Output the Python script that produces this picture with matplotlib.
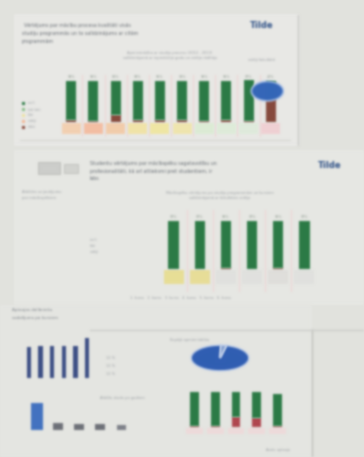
import matplotlib.pyplot as plt
import numpy as np
from matplotlib.patches import Ellipse, Rectangle

W, H = 364, 457

# panel 1 : ten stacked bars (green / brown) with a pale category band below
green1 = [93, 95, 80, 93, 94, 93, 95, 94, 96, 40]
brown1 = [3, 2, 15, 3, 3, 4, 2, 3, 2, 55]
band1_colors = ['#f3d0b2', '#f4bea3', '#f2ccab', '#f1e3a8', '#f0e6a4', '#f0e5ae',
                '#dcecd5', '#deecd9', '#dfebdc', '#f0d0d3']
top1_labels = ['94%', '96%', '81%', '94%', '95%', '93%', '96%', '95%', '97%', '40%']

# panel 2 : six bars
green2 = [97, 97, 96, 97, 95, 97]
brown2 = [1, 1, 2, 1, 3, 1]
band2_colors = ['#e8de96', '#e8dd98', '#e0e1de', '#e0e1de', '#dfdedb', '#e0e1de']

# panel 3 : small blue columns, one tall blue bar and four short grey ones
blue3 = [78, 80, 79, 80, 79, 100]
low3 = [100, 24, 22, 20, 18]
low3_colors = ['#4272c0', '#6d7078', '#6d7078', '#6d7078', '#7d8088']

# panel 3 : pie and five stacked bars
pie3 = [97, 3]
green4 = [95, 95, 70, 72, 88]
red4 = [3, 3, 28, 26, 5]

GREEN = '#2b7a45'
BROWN = '#86493c'
TXT = '#9ea2a6'


def blur(im, dpi):
    # soft gaussian blur, the reference is a fuzzy photo
    r = 4
    k = np.exp(-0.5 * (np.arange(-r, r + 1) / 1.1) ** 2)
    k /= k.sum()
    a = np.pad(im, ((r, r), (r, r), (0, 0)))
    a[..., :3] *= a[..., 3:]
    b = sum(kv * np.roll(a, i - r, axis=0) for i, kv in enumerate(k))
    b = sum(kv * np.roll(b, i - r, axis=1) for i, kv in enumerate(k))
    alpha = b[..., 3:]
    b[..., :3] = np.where(alpha > 1e-6, b[..., :3] / np.maximum(alpha, 1e-6), 0)
    return np.clip(b, 0, 1), -r, -r


fig = plt.figure(figsize=(W / 100, H / 100), dpi=100)
fig.patch.set_facecolor('#e1e2dd')


def px(x0, y0, x1, y1):
    # pixel box (top-left origin) -> figure fraction
    return [x0 / W, 1 - y1 / H, (x1 - x0) / W, (y1 - y0) / H]


bg = fig.add_axes([0, 0, 1, 1])
bg.set_xlim(0, W)
bg.set_ylim(H, 0)
bg.axis('off')

# slide backgrounds and frame lines
bg.add_patch(Rectangle((14, 14), 286, 132, fc='#e9e9e6', ec='none'))
bg.add_patch(Rectangle((14, 150), 350, 155, fc='#e7e8e4', ec='none'))
bg.add_patch(Rectangle((0, 305), 312, 152, fc='#e5e6e2', ec='none'))
bg.plot([298, 298], [15, 145], color='#c4c5c1', lw=0.9)
bg.plot([312, 312], [330, 457], color='#bdbeba', lw=0.9)
bg.plot([90, 364], [330, 330], color='#cacbc7', lw=0.9)
bg.plot([20, 290], [140, 140], color='#d2d3cf', lw=0.7)

# titles and logos
ttl = dict(color='#676d74', fontsize=3.4, ha='left', va='center')
bg.text(24, 25, 'Vērtējums par mācību procesa kvalitāti visās', **ttl)
bg.text(22, 33, 'studiju programmās un to salīdzinājums ar citām', **ttl)
bg.text(22, 41, 'programmām', **ttl)
bg.text(250, 25, 'Tilde', color='#2c4f86', fontsize=6, fontweight='bold', va='center')
bg.text(170, 53, 'Apmierinātība ar studiju procesu (2012 - 2013)', color=TXT,
        fontsize=2.6, ha='center', va='center')
bg.text(170, 58, 'salīdzinājumā ar iepriekšējo gadu un vidējo rādītāju', color=TXT,
        fontsize=2.6, ha='center', va='center')
bg.text(262, 60, 'vidēji fakultātē', color=TXT, fontsize=2.6, ha='center', va='center')

bg.text(90, 163, 'Studentu vērtējums par mācībspēku sagatavotību un', **ttl)
bg.text(90, 171, 'profesionalitāti, kā arī attieksmi pret studentiem, ir', **ttl)
bg.text(90, 179, 'labs', **ttl)
bg.text(318, 165, 'Tilde', color='#2c4f86', fontsize=6, fontweight='bold', va='center')
bg.add_patch(Rectangle((38, 162), 22, 12, fc='#cdcecb', ec='#b3b4b0', lw=0.5))
bg.add_patch(Rectangle((64, 164), 14, 9, fc='#d3d4d0', ec='#b8b9b5', lw=0.5))
bg.text(22, 192, 'Atbildes uz jautājumu', color=TXT, fontsize=2.6, va='center')
bg.text(22, 198, 'par mācībspēkiem', color=TXT, fontsize=2.6, va='center')
bg.text(220, 193, 'Mācībspēku vērtējums pa studiju programmām un kursiem', color=TXT,
        fontsize=2.6, ha='center', va='center')
bg.text(220, 198, 'salīdzinājumā ar fakultātes vidējo', color=TXT,
        fontsize=2.6, ha='center', va='center')

bg.text(12, 310, 'Aptaujas dalībnieku', color='#80858b', fontsize=3, va='center')
bg.text(12, 318, 'sadalījums pa kursiem', color='#80858b', fontsize=3, va='center')
bg.text(130, 298, '1. kurss   2. kurss   3. kurss   4. kurss   5. kurss   6. kurss',
        color=TXT, fontsize=2.6, va='center')
bg.text(170, 340, 'Kopējā apmierinātība', color=TXT, fontsize=2.6, va='center')
bg.text(100, 398, 'Atbilžu skaits pa gadiem', color=TXT, fontsize=2.6, va='center')
for yy in [358, 366, 374]:
    bg.text(106, yy, '12 %', color=TXT, fontsize=2.6, va='center')
bg.text(290, 450, 'Avots: aptauja', color=TXT, fontsize=2.4, ha='right', va='center')

# legend-ish labels at left of panel 1
for i, lab in enumerate(['izcili', 'ļoti labi', 'labi', 'vidēji', 'slikti']):
    y = 103 + i * 6
    bg.add_patch(Rectangle((22, y - 1.5), 3, 3, fc=['#2f7d48', '#8bc08a', '#f0e4a4',
                                                    '#f4b896', '#8a4b3e'][i], ec='none'))
    bg.text(28, y, lab, color=TXT, fontsize=2.4, va='center')
for i, lab in enumerate(['izcili', 'labi', 'vidēji']):
    bg.text(90, 240 + i * 6, lab, color=TXT, fontsize=2.4, va='center')


def stacked(ax, greens, browns, bands, labels=None, width=0.45):
    x = np.arange(len(greens))
    ax.bar(x, browns, width, color=BROWN, zorder=3)
    ax.bar(x, greens, width, bottom=browns, color=GREEN, zorder=3)
    ax.bar(x, [-28] * len(x), width * 1.9, bottom=-2, color=bands, zorder=2)
    if labels:
        for xi, lab in zip(x, labels):
            ax.text(xi, 104, lab, color='#8d9a8f', fontsize=2.4, ha='center')
    for xi in x[:-1]:
        ax.axvline(xi + 0.5, color='#f0d2d2', lw=0.7, zorder=1)
    ax.set_xlim(-0.6, len(x) - 0.4)
    ax.axis('off')
    return x


a1 = fig.add_axes(px(58, 75, 284, 137))
a1.set_ylim(-36, 110)
x1 = stacked(a1, green1, brown1, band1_colors, top1_labels)
a1.add_patch(Ellipse((x1[-1] - 0.15, 72), 1.45, 46, fc='#3466b8', ec='#a9c0e6', lw=1.2, zorder=4))

a2 = fig.add_axes(px(158, 210, 320, 292))
a2.set_ylim(-46, 120)
stacked(a2, green2, brown2, band2_colors, ['97%', '97%', '96%', '97%', '95%', '97%'],
        width=0.4)

a3 = fig.add_axes(px(22, 336, 94, 380))
a3.bar(np.arange(len(blue3)), blue3, 0.38, color='#3b4d84')
a3.set_xlim(-0.6, len(blue3) - 0.4)
a3.set_ylim(-5, 105)
a3.axis('off')

a4 = fig.add_axes(px(24, 400, 134, 434))
a4.bar(np.arange(len(low3)), low3, [0.55, 0.45, 0.45, 0.45, 0.45], color=low3_colors)
a4.set_xlim(-0.6, len(low3) - 0.4)
a4.set_ylim(-15, 110)
a4.axis('off')

a5 = fig.add_axes(px(184, 342, 256, 374))
a5.pie(pie3, colors=['#2f5db2', '#7f9ccf'], startangle=88,
       wedgeprops=dict(edgecolor='#bfcfea', linewidth=1.0))
a5.set_aspect('auto')

a6 = fig.add_axes(px(182, 388, 290, 438))
x6 = np.arange(len(green4))
a6.bar(x6, red4, 0.42, color='#b0464e', zorder=3)
a6.bar(x6, green4, 0.42, bottom=red4, color=GREEN, zorder=3)
a6.bar(x6, [-18] * len(x6), 0.8, bottom=-2, color='#eedada', zorder=2)
a6.set_xlim(-0.6, len(x6) - 0.4)
a6.set_ylim(-30, 110)
a6.axis('off')

for ax in fig.axes:
    for art in ax.get_children():
        if art is not ax.patch:
            art.set_agg_filter(blur)

fig.savefig('out.png', dpi=100, facecolor=fig.get_facecolor())
